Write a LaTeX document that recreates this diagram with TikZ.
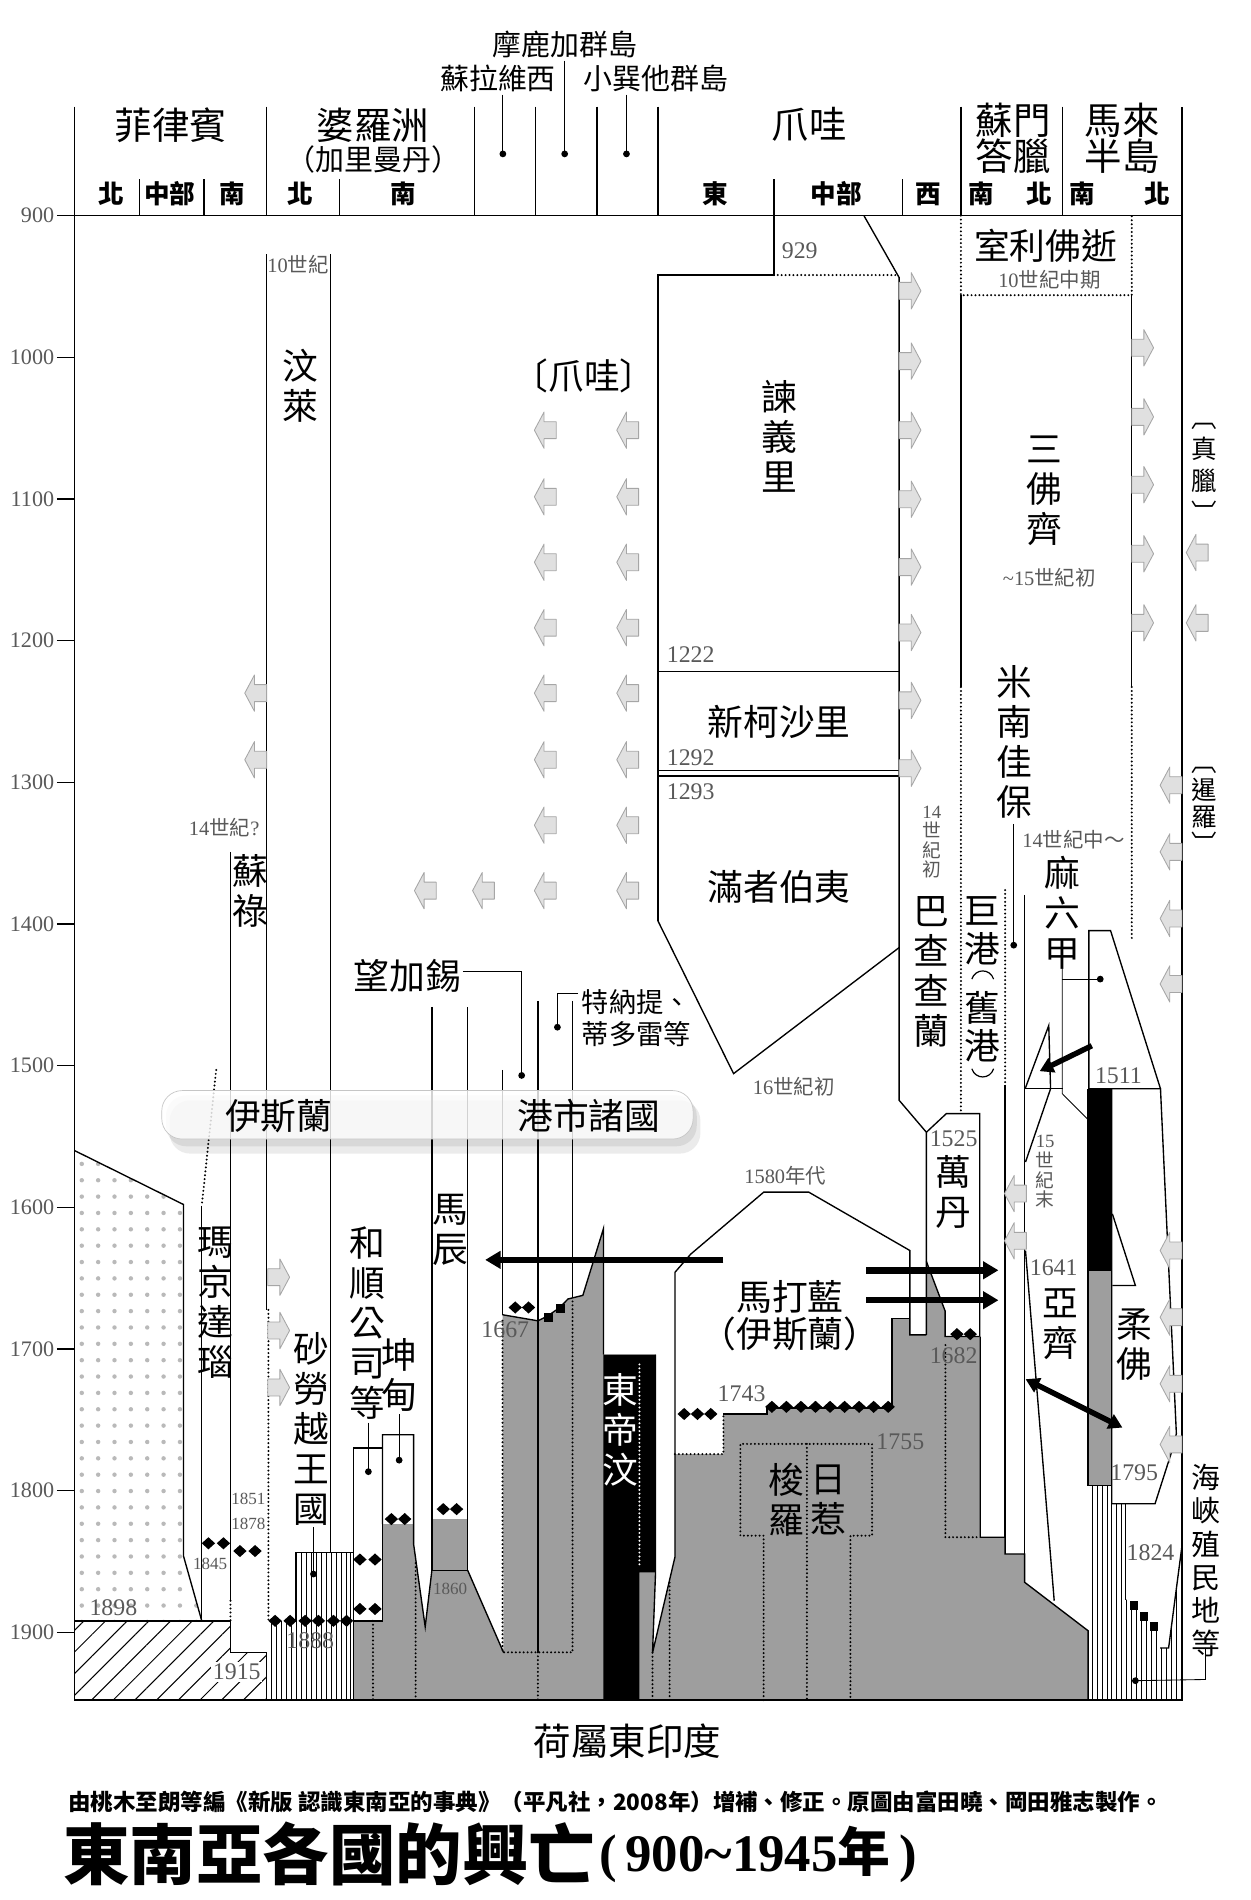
\documentclass[tikz,border=0pt]{standalone}
\usepackage{fontspec}
\setmainfont{Liberation Serif}
\newfontfamily\cjk{Noto Sans CJK TC}
\usetikzlibrary{arrows.meta,patterns.meta}

\definecolor{dutchgray}{gray}{0.62}
\definecolor{labgray}{gray}{0.35}
\definecolor{arrowfill}{gray}{0.88}

\tikzset{
  rarr/.pic={\draw[gray!70, fill=arrowfill, line width=.5pt, line join=round]
    (0,-7) -- (10,-7) -- (10,-15) -- (18,0) -- (10,15) -- (10,7) -- (0,7) -- cycle;},
  larr/.pic={\draw[gray!70, fill=arrowfill, line width=.5pt, line join=round]
    (0,-7) -- (-10,-7) -- (-10,-15) -- (-18,0) -- (-10,15) -- (-10,7) -- (0,7) -- cycle;},
  dia/.pic={\fill (-5.5,0) -- (0,-5) -- (5.5,0) -- (0,5) -- cycle;},
  sqr/.pic={\fill (-3.6,-3.6) rectangle (3.6,3.6);},
  pin/.pic={\fill (0,0) circle (2.8);}
}

\begin{document}
\begin{tikzpicture}[x=0.025cm, y=-0.025cm,
  region/.style={font=\cjk\fontsize{22}{20}\selectfont, inner sep=0pt, align=center},
  isle/.style={font=\cjk\fontsize{17}{19}\selectfont, inner sep=0pt},
  part/.style={font=\cjk\bfseries\fontsize{15}{16}\selectfont, inner sep=0pt},
  realm/.style={font=\cjk\fontsize{21}{23.5}\selectfont, inner sep=0pt, align=center},
  minor/.style={font=\cjk\fontsize{16}{19}\selectfont, inner sep=0pt, align=left},
  note/.style={font=\cjk\fontsize{12}{12}\selectfont, text=labgray, inner sep=0pt, align=center},
  vnote/.style={font=\cjk\fontsize{11}{11.5}\selectfont, text=labgray, inner sep=0pt, align=center},
  year/.style={font=\fontsize{14}{14}\selectfont, text=labgray, inner sep=0pt},
  yearsm/.style={font=\fontsize{10}{10}\selectfont, text=labgray, inner sep=0pt},
  tick/.style={font=\fontsize{13}{13}\selectfont, text=labgray, anchor=east, inner sep=0pt},
  rule/.style={line width=.8pt},
  dotrule/.style={line width=1.3pt, dash pattern=on 0pt off 2.3pt, line cap=round},
  bigarrow/.style={line width=3.8pt, -{Triangle[length=9pt,width=10pt]}},
  dutch/.style={fill=dutchgray},
  british/.style={pattern={Lines[angle=90,distance=2.9pt,line width=.45pt]}},
  spanish/.style={pattern={Dots[distance=9.6pt,radius=1.3pt]}, pattern color=gray!55},
  american/.style={pattern={Lines[angle=45,distance=9pt,line width=.6pt]}}
]
\fill[white] (0,0) rectangle (1032,1568);
\useasboundingbox (0,0) rectangle (1032,1568);

% colonial areas
\path[spanish] (61.5,949.5) -- (151.4,994) -- (151.4,1284) -- (166.5,1337.6) -- (61.5,1337.6) -- cycle;
\path[american] (61.5,1337.6) -- (190.2,1337.6) -- (190.2,1363.5) -- (220,1363.5) -- (220,1403) -- (61.5,1403) -- cycle;
\path[british] (244.4,1281) -- (291.8,1281) -- (291.8,1403) -- (221.5,1403) -- (221.5,1337.6) -- (244.4,1337.6) -- cycle;
\path[dutch] (291.8,1403) -- (291.8,1337.6) -- (315.7,1337.6) -- (315.7,1257.8) -- (341.3,1257.8)
  -- (341.3,1274) -- (350.9,1342.5) -- (356.4,1296) -- (356.4,1253.6) -- (386,1253.6) -- (386,1296)
  -- (415.5,1363.6) -- (414.7,1085) -- (443.9,1090) -- (452,1086) -- (462,1079) -- (468.7,1072)
  -- (481,1069) -- (498,1014) -- (498,1118) -- (541,1118) -- (541,1297.6) -- (538.5,1364)
  -- (557,1285) -- (557,1200) -- (597,1200) -- (597,1167) -- (633,1167) -- (633,1162)
  -- (736,1162) -- (736,1088) -- (751,1088) -- (751,1101.6) -- (764.5,1101.6) -- (764.5,1041)
  -- (780,1082) -- (780,1103) -- (809,1103) -- (809,1268.6) -- (829.5,1268.6) -- (829.5,1282.4)
  -- (845.6,1282.4) -- (845.6,1305.8) -- (898,1345.8) -- (898,1403) -- cycle;
\fill (498,1118) -- (541,1118) -- (541,1297.6) -- (527.7,1297.6) -- (527.7,1403) -- (498,1403) -- cycle;
\fill (897.5,898.5) rectangle (917.5,1048.5);
\path[dutch] (897.5,1048.5) rectangle (917.5,1226);
\path[british] (898,1226) -- (917.5,1226) -- (917.5,1241) -- (928.8,1241) -- (928.8,1320)
  -- (932,1320) -- (940,1330) -- (948,1338) -- (957.5,1346) -- (957.5,1360) -- (964.4,1360)
  -- (975.4,1276) -- (975.4,1403) -- (898,1403) -- cycle;

% frame, header and year axis
\draw[rule] (61.5,88) -- (61.5,1403) -- (975.4,1403) -- (975.4,88);
\draw[rule] (61.5,178) -- (975.4,178);
\foreach \x in {220,391.6,442,492.6,543,793,877} \draw[rule] (\x,88) -- (\x,178);
\foreach \x in {115,168.5,280,638.6,745} \draw[rule] (\x,148) -- (\x,178);
\foreach \t in {900,1000,...,1900}{
  \pgfmathsetmacro\ty{178+(\t-900)*1.169}
  \draw[rule] (47,\ty) -- (61.5,\ty);
  \node[tick] (t\t) at (45,\ty) {\t};
}

% Philippines
\draw[rule] (61.5,949.5) -- (151.4,994) -- (151.4,1284) -- (166.5,1337.6);
\draw[rule] (61.5,1337.6) -- (190.2,1337.6) -- (190.2,1363.5) -- (220,1363.5) -- (220,1403);
\draw[rule] (166.5,995) -- (166.5,1337.6);
\draw[dotrule] (178.4,883) -- (166.5,995);
\draw[rule] (190.2,703) -- (190.2,1321);
\draw[dotrule] (190.2,1321) -- (190.2,1337.6);

% Borneo
\draw[rule] (220,210) -- (220,1081);
\draw[dotrule] (221.5,1081) -- (221.5,1337.6);
\draw[rule] (273,210) -- (273,1281);
\draw[rule] (244.4,1337.6) -- (244.4,1281) -- (291.8,1281);
\draw[rule] (291.8,1403) -- (291.8,1195) -- (315.7,1195) -- (315.7,1337.6) -- (291.8,1337.6);
\draw[rule] (315.7,1257.8) -- (315.7,1184) -- (341.3,1184) -- (341.3,1274) -- (350.9,1342.5) -- (356.4,1296);
\draw[rule] (356.4,831) -- (356.4,1296) -- (386,1296) -- (386,831);
\draw[rule] (386,1296) -- (415.5,1363.6);
\draw[dotrule] (307.8,1337.6) -- (307.8,1403);
\draw[dotrule] (343,1290) -- (343,1403);

% port states and Java
\draw[rule] (414.7,883) -- (414.7,1085);
\draw[dotrule] (414.7,1090) -- (414.7,1363.6) -- (472.5,1363.6);
\draw[rule] (443.9,826) -- (443.9,1363.6);
\draw[dotrule] (443.9,1363.6) -- (443.9,1403);
\draw[rule] (472.5,826) -- (472.5,1070);
\draw[dotrule] (472.5,1074) -- (472.5,1363.6);
\draw[rule] (414.7,1085) -- (443.9,1090) -- (452,1086) -- (462,1079) -- (468.7,1072) -- (481,1069) -- (498,1014) -- (498,1118);
\draw[white, dotrule] (527.7,1126) -- (527.7,1292);
\draw[rule] (541,1118) -- (541,1297.6) -- (538.5,1364) -- (557,1285);
\draw[dotrule] (538.5,1364) -- (538.5,1403);
\draw[dotrule] (552.6,1306) -- (552.6,1403);
\draw[rule] (557,1285) -- (557,1050) -- (570,1035) -- (630.3,983.8) -- (667.4,983.8) -- (750.9,1032) -- (750.9,1101.6) -- (764.5,1101.6);
\draw[dotrule] (557,1200) -- (597,1200) -- (597,1167);
\draw[rule] (597,1167) -- (633,1167) -- (633,1162) -- (736,1162) -- (736,1088) -- (750.9,1088);
\draw[dotrule] (630.2,1403) -- (630.2,1267.3) -- (611,1267.3) -- (611,1191.6) -- (719.7,1191.6) -- (719.7,1267.3) -- (701.8,1267.3) -- (701.8,1403);
\draw[dotrule] (665.9,1191.6) -- (665.9,1403);
\draw[rule] (543,760) -- (543,227) -- (638.6,227) -- (638.6,178);
\draw[dotrule] (638.6,227) -- (742,227);
\draw[rule] (713,178) -- (742,229) -- (742,908) -- (764.5,934.4) -- (764.5,1101.6);
\draw[rule] (543,554.4) -- (742,554.4);
\draw[rule] (543,636) -- (742,636);
\draw[rule] (543,640.5) -- (742,640.5);
\draw[rule] (543,760) -- (605.4,886) -- (742,782);
\draw[rule] (764.5,934.4) -- (781,919) -- (808.5,919) -- (808.5,1103);
\draw[rule] (764.5,1041) -- (780,1082) -- (780,1103) -- (808.5,1103);
\draw[dotrule] (780.2,1110) -- (780.2,1268.6) -- (809,1268.6);
\draw[rule] (809,1103) -- (809,1268.6) -- (829.5,1268.6) -- (829.5,1282.4) -- (845.6,1282.4) -- (845.6,1305.8) -- (898,1345.8) -- (898,1403);

% Sumatra and Malaya
\draw[dotrule] (793,178) -- (793,243.6) -- (934,243.6) -- (934,178);
\draw[rule] (793,243.6) -- (793,567);
\draw[dotrule] (793,567) -- (793,918);
\draw[rule] (934,243.6) -- (934,567);
\draw[dotrule] (934,567) -- (934,775);
\draw[dotrule] (829.5,734.5) -- (829.5,895);
\draw[rule] (829.5,895) -- (829.5,1268.6);
\draw[rule] (845.6,738.5) -- (845.6,1282.4);
\draw[rule] (846,898.5) -- (865.5,846.3) -- (867,898.5);
\draw[rule] (846,898.5) -- (877,898.5);
\draw[rule] (867,898.5) -- (846.3,959);
\draw[rule] (846.3,1032) -- (870,1321);
\draw[rule, fill=white] (898.6,768) -- (916.5,768) -- (957.7,898.5) -- (898.6,898.5) -- cycle;
\draw[rule] (898,898.5) -- (898,1226);
\draw[rule] (917.5,898.5) -- (917.5,1241) -- (953.2,1241) -- (969,1191.6) -- (970.8,1183) -- (957.7,898.5);
\draw[rule] (918,1001.7) -- (937,1060.9) -- (918,1060.9);
\draw[rule] (898,1226) -- (917.5,1226);
\draw[rule] (928.8,1241) -- (928.8,1320);
\draw[rule] (957.5,1360) -- (964.4,1360) -- (975.4,1276);

% leaders
\coordinate (mdot) at (466,127);
\coordinate (sdot) at (415,127);
\coordinate (ldot) at (517,127);
\draw[line width=.5pt] (466,50) -- (mdot);
\draw[line width=.5pt] (415,78) -- (sdot);
\draw[line width=.5pt] (517,78) -- (ldot);
\draw[line width=.5pt] (836.6,680) -- (836.6,780);
\draw[line width=.5pt] (876.6,798) -- (876.6,902.5) -- (908.2,934.3);
\draw[line width=.5pt] (876.6,808) -- (908,808);
\draw[line width=.5pt] (382,801.4) -- (430.5,801.4) -- (430.5,887.5);
\draw[line width=.5pt] (477,820) -- (460,820) -- (460,847.7);
\draw[line width=.5pt] (258.7,1260) -- (258.7,1299);
\draw[line width=.5pt] (304,1174) -- (304,1214.5);
\draw[line width=.5pt] (329.4,1167) -- (329.4,1205);
\draw[line width=.5pt] (994.9,1360) -- (994.9,1386) -- (937,1387);
\foreach \p in {(mdot),(sdot),(ldot),(836.6,780),(908.2,934.3),(908,808),(430.5,887.5),(460,847.7),(258.7,1299),(304,1214.5),(329.4,1205),(937,1387)}
  \pic at \p {pin};

% treaty marks
\foreach \p in {(172,1273.6),(184.4,1273.6),(198,1280),(210.5,1280),(227,1337.6),(239.4,1337.6),(251.8,1337.6),(262.8,1337.6),(275.2,1337.6),(286,1337.6),
  (297,1287),(309.5,1287),(297,1327.8),(309.5,1327.8),(323,1253.6),(334,1253.6),(365.8,1245.4),(376.8,1245.4),(425.2,1079),(436.2,1079),
  (564.6,1166.9),(575.6,1166.9),(586.6,1166.9),(789.7,1101),(800.7,1101)}
  \pic at \p {dia};
\foreach \x in {637,649,...,733} \pic at (\x,1161) {dia};
\foreach \p in {(452.6,1087.4),(462.3,1080),(935.9,1325),(944.1,1334.1),(952.4,1342.4)}
  \pic at \p {sqr};

% influence arrows
\foreach \y in {240,298,355,412,468,522,578,634} \pic at (742,\y) {rarr};
\foreach \y in {287,344,400,457,514} \pic at (934,\y) {rarr};
\foreach \y in {456,514} \pic at (997,\y) {larr};
\foreach \y in {648,703,758,812,1032,1087,1142,1192} \pic at (975.4,\y) {larr};
\foreach \y in {355,410,464,518,572,627,681,735} {\pic at (459,\y) {larr}; \pic at (527,\y) {larr};}
\foreach \x in {360,408} \pic at (\x,735) {larr};
\foreach \y in {572,627} \pic at (220,\y) {larr};
\foreach \y in {1054,1098,1145} \pic at (221,\y) {rarr};
\foreach \y in {985,1024} \pic at (847,\y) {larr};

% colonial advance
\draw[bigarrow] (597,1039.7) -- (400.4,1039.7);
\draw[bigarrow] (715,1048.3) -- (824,1048.3);
\draw[bigarrow] (715,1073) -- (824,1073);
\draw[line width=3.2pt, -{Triangle[length=8pt,width=9pt]}] (901,863) -- (858,884);
\draw[line width=3.2pt, {Triangle[length=8pt,width=9pt]}-{Triangle[length=8pt,width=9pt]}] (846.4,1138.2) -- (926.3,1178.1);

% Islam band
\fill[black, opacity=.08, rounded corners=12pt] (140,908) rectangle (578,952);
\fill[black, opacity=.08, rounded corners=12pt] (137,904) rectangle (575,946);
\draw[gray!45, fill=white, fill opacity=.82, rounded corners=12pt] (133.5,900) rectangle (572,940);
\node[realm] (islam) at (230,921) {伊斯蘭};
\node[realm] (ports) at (486,921) {港市諸國};

% header labels
\node[isle] (moluccas) at (466,37) {摩鹿加群島};
\node[isle] (sulawesi) at (411,65) {蘇拉維西};
\node[isle] (sunda) at (541,65) {小巽他群島};
\node[region] (phil) at (141,103) {菲律賓};
\node[region] (borneo) at (308,103) {婆羅洲};
\node[isle] (kalimantan) at (308,132) {（加里曼丹）};
\node[region] (javahd) at (668,103) {爪哇};
\node[region] (sumatra) at (836,114) {蘇門\\答臘};
\node[region] (malaya) at (926,114) {馬來\\半島};
\foreach \x/\t [count=\i] in {92/北,140/中部,192/南,248/北,333/南,590/東,690/中部,766/西,810/南,858/北,893/南,955/北}
  \node[part] (p\i) at (\x,160) {\t};

% realms
\node[note] (brunei10) at (246,218) {\textrm{10}世紀};
\node[realm] (brunei) at (248,318) {汶\\萊};
\node[note] (sulu14) at (185,683) {\textrm{14}世紀\textrm{?}};
\node[realm] (sulu) at (207,735) {蘇\\祿};
\node[realm] (maguindanao) at (178,1075) {瑪\\京\\達\\瑙};
\node[realm] (sarawak) at (257,1179) {砂\\勞\\越\\王\\國};
\node[realm] (kongsi) at (303,1092) {和\\順\\公\\司\\等};
\node[realm] (pontianak) at (330,1135) {坤\\甸};
\node[realm] (banjar) at (371.5,1015) {馬\\辰};
\node[realm] (makassar) at (336,805) {望加錫};
\node[minor, anchor=west] (ternate) at (480,840) {特納提、\\蒂多雷等};
\node[realm] (javabr) at (482,310) {〔爪哇〕};
\node[realm] (kediri) at (643,360) {諫\\義\\里};
\node[realm] (singhasari) at (643,596) {新柯沙里};
\node[realm] (majapahit) at (643,732) {滿者伯夷};
\node[note] (maja16) at (655,897) {\textrm{16}世紀初};
\node[note] (mat1580) at (648,970) {\textrm{1580}年代};
\node[realm] (mataram) at (652,1070) {馬打藍};
\node[realm] (mataramis) at (652,1101) {（伊斯蘭）};
\node[realm, text=white] (timor) at (512,1180) {東\\帝\\汶};
\node[realm] (surakarta) at (649,1238) {梭\\羅};
\node[realm] (yogya) at (684,1238) {日\\惹};
\node[vnote] (pajaj14) at (769,695) {\textrm{14}\\世\\紀\\初};
\node[realm] (pajajaran) at (769,802) {巴\\查\\查\\蘭};
\node[realm] (banten) at (787,984) {萬\\丹};
\node[realm] (srivijaya) at (863,203) {室利佛逝};
\node[note] (sriv10) at (866,231) {\textrm{10}世紀中期};
\node[realm] (sanfoqi) at (862,405) {三\\佛\\齊};
\node[note] (sanf15) at (866,477) {\textrm{\textasciitilde15}世紀初};
\node[realm] (minang) at (837,612) {米\\南\\佳\\保};
\node[note] (mala14) at (886,693) {\textrm{14}世紀中～};
\node[realm] (malacca) at (876.6,753) {麻\\六\\甲};
\node[realm] (palembang1) at (811,752) {巨};
\node[realm] (palembang2) at (811,783) {港};
\node[realm] (palembang3) at (811,832) {舊};
\node[realm] (palembang4) at (811,863) {港};
\draw[line width=.7pt] (802,808) .. controls (805,799) and (817,799) .. (820,808);
\draw[line width=.7pt] (802,882) .. controls (805,891) and (817,891) .. (820,882);
\node[vnote] (aceh15) at (862.5,967) {\textrm{15}\\世\\紀\\末};
\node[realm] (aceh) at (875,1093) {亞\\齊};
\node[realm] (johor) at (936,1110) {柔\\佛};
\node[font=\cjk\fontsize{17}{19.5}\selectfont, inner sep=0pt, align=center] (straits) at (995,1288) {海\\峽\\殖\\民\\地\\等};
\node[font=\cjk\fontsize{15}{18.5}\selectfont, inner sep=0pt, align=center] (chenla) at (994,390) {︹\\真\\臘\\︺};
\node[font=\cjk\fontsize{15}{16}\selectfont, inner sep=0pt, align=center] (siam) at (994,669) {︹\\暹\\羅\\︺};

% years
\node[year] (y929) at (660,207) {929};
\node[year] (y1222) at (570,540) {1222};
\node[year] (y1292) at (570,625) {1292};
\node[year] (y1293) at (570,653) {1293};
\node[year] (y1525) at (787,940) {1525};
\node[year] (y1682) at (787,1119) {1682};
\node[year] (y1511) at (923,887.5) {1511};
\node[year] (y1641) at (869.6,1046) {1641};
\node[year] (y1795) at (936,1215) {1795};
\node[year] (y1824) at (949.5,1281) {1824};
\node[year] (y1743) at (612,1150) {1743};
\node[year] (y1755) at (743,1190) {1755};
\node[year] (y1667) at (417,1097) {1667};
\node[yearsm] (y1860) at (371.5,1311) {1860};
\node[yearsm] (y1845) at (173.4,1290.4) {1845};
\node[yearsm] (y1851) at (205,1237) {1851};
\node[yearsm] (y1878) at (205,1257.8) {1878};
\node[year] (y1898) at (93.6,1326.5) {1898};
\node[year, fill=white, inner sep=1pt] (y1915) at (195.4,1380) {1915};
\node[year] (y1888) at (256,1354) {1888};

% footer
\node[region] (dei) at (518,1437) {荷屬東印度};
\node[font=\cjk\bfseries\fontsize{13.2}{14}\selectfont, inner sep=0pt] (source) at (508,1487)
  {由桃木至朗等編《新版 認識東南亞的事典》（平凡社，2008年）增補、修正。原圖由富田曉、岡田雅志製作。};
\node[font=\cjk\bfseries\fontsize{39}{40}\selectfont, anchor=west, inner sep=0pt] (title) at (52,1530) {東南亞各國的興亡};
\node[font=\bfseries\fontsize{31}{32}\selectfont, anchor=west, inner sep=0pt] (span) at ([xshift=2pt]title.east)
  {(\,900\textasciitilde1945{\cjk\bfseries 年}\,)};
\end{tikzpicture}
\end{document}
